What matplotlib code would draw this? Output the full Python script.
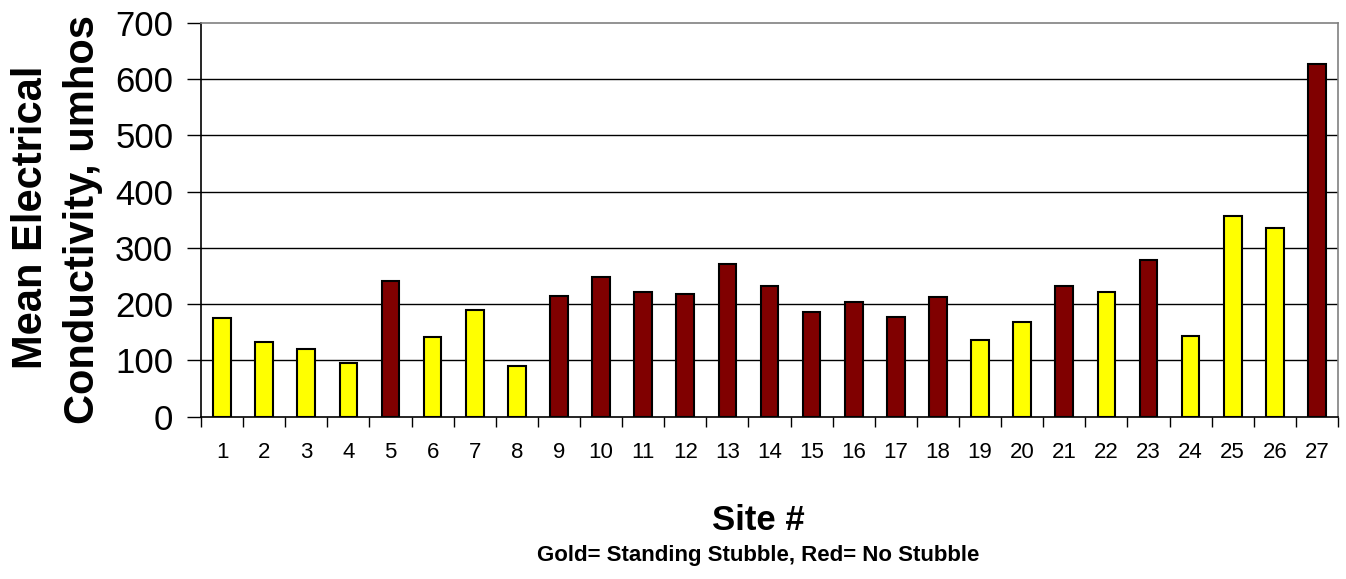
import matplotlib
matplotlib.use("Agg")
import matplotlib.pyplot as plt
import numpy as np

sites = [str(i) for i in range(1, 28)]
values = [175, 132, 121, 96, 241, 142, 190, 90, 214, 249, 221, 218, 271, 232, 186,
          204, 178, 213, 136, 168, 232, 221, 278, 143, 356, 335, 627]
groups = ["G", "G", "G", "G", "R", "G", "G", "G", "R", "R", "R", "R", "R", "R", "R",
          "R", "R", "R", "G", "G", "R", "G", "R", "G", "G", "G", "R"]
colors_map = {"G": "#FFFF00", "R": "#800000"}
yticks = [0, 100, 200, 300, 400, 500, 600, 700]

plt.rcParams['font.family'] = ['Liberation Sans', 'DejaVu Sans']

fig = plt.figure(figsize=(13.46, 5.79), dpi=100)
ax = fig.add_axes([201/1346, 1 - 416.7/579, (1338 - 201)/1346, (416.7 - 22.7)/579])

x = np.arange(len(sites))
ax.bar(x, values, width=0.42, color=[colors_map[g] for g in groups],
       edgecolor="black", linewidth=1.5, zorder=3)

ax.set_xlim(-0.5, len(sites) - 0.5)
ax.set_ylim(0, 700)
ax.set_yticks(yticks)
ax.set_yticklabels([str(v) for v in yticks], fontsize=25)
ax.tick_params(axis='y', direction='out', length=10, width=1, pad=10, colors='black')

ax.set_xticks(x)
ax.set_xticklabels(sites, fontsize=16)
ax.tick_params(axis='x', which='major', length=0, pad=18)
ax.set_xticks(np.arange(-0.5, len(sites)), minor=True)
ax.tick_params(axis='x', which='minor', direction='out', length=7, width=1)

for v in yticks[1:-1]:
    ax.axhline(v, color="black", linewidth=1, zorder=1)

ax.spines['top'].set_color('#808080')
ax.spines['right'].set_color('#808080')
ax.spines['left'].set_color('black')
ax.spines['bottom'].set_color('black')
for s in ax.spines.values():
    s.set_linewidth(1.2)

fig.text(31/1346, 1 - 217/579, "Mean Electrical", rotation=90, ha='center', va='center',
         fontsize=30, fontweight='bold')
fig.text(83/1346, 1 - 220/579, "Conductivity, umhos", rotation=90, ha='center', va='center',
         fontsize=30, fontweight='bold')

fig.text(758/1346, 1 - 520/579, "Site #", ha='center', va='center', fontsize=25, fontweight='bold')
fig.text(758/1346, 1 - 556/579, "Gold= Standing Stubble, Red= No Stubble", ha='center', va='center',
         fontsize=16, fontweight='bold')

fig.savefig("out.png", dpi=100)
